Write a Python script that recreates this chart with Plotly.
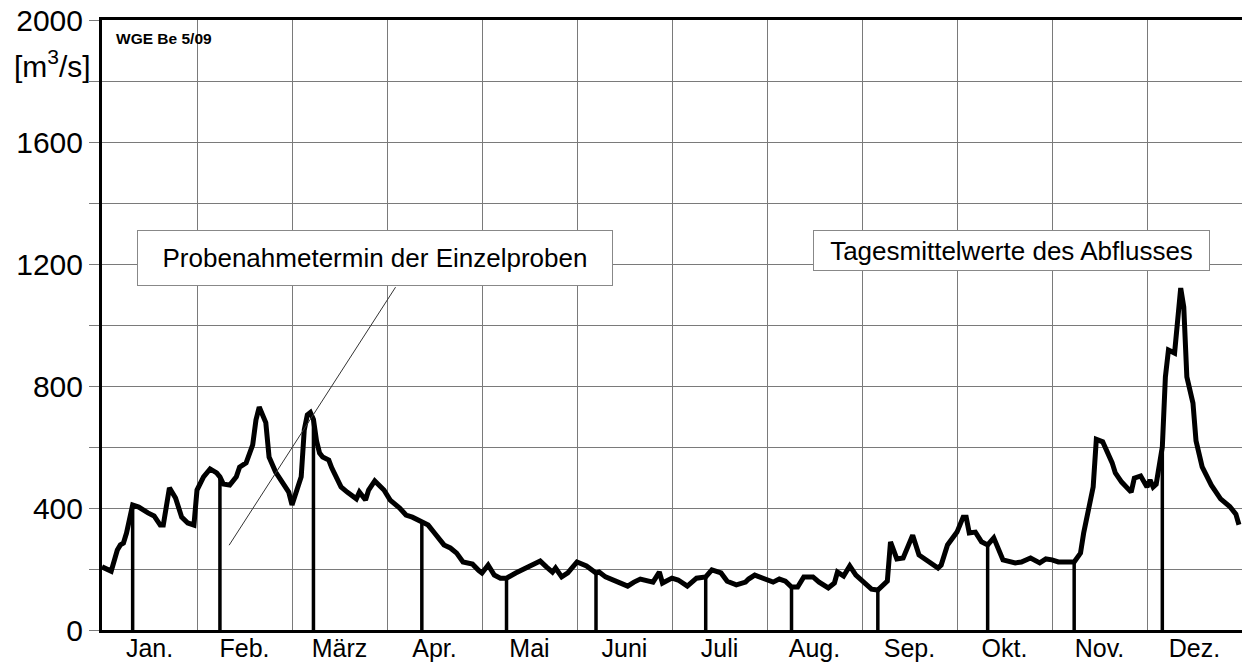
import calendar
import plotly.graph_objects as go

YEAR = 2008
MONTHS = ["Jan.", "Feb.", "März", "Apr.", "Mai", "Juni", "Juli", "Aug.", "Sep.", "Okt.", "Nov.", "Dez."]
Y_TICKS = [0, 400, 800, 1200, 1600, 2000]

# Tagesmittelwerte des Abflusses [m3/s]
flow_dates = [
    "01-01", "01-04", "01-06", "01-07", "01-08", "01-09", "01-11", "01-13", "01-16", "01-18",
    "01-20", "01-21", "01-23", "01-25", "01-27", "01-29", "01-31",
    "02-01", "02-03", "02-05", "02-07", "02-08", "02-09", "02-11", "02-13", "02-14", "02-16",
    "02-18", "02-19", "02-20", "02-22", "02-23", "02-25", "02-27", "02-29",
    "03-01", "03-04", "03-05", "03-06", "03-07", "03-08", "03-09", "03-10", "03-11", "03-13",
    "03-14", "03-17", "03-19", "03-22", "03-23", "03-25", "03-26", "03-28", "03-31",
    "04-02", "04-05", "04-07", "04-09", "04-12", "04-14", "04-16", "04-19", "04-21", "04-23",
    "04-25", "04-28", "04-30",
    "05-01", "05-03", "05-05", "05-07", "05-09", "05-12", "05-16", "05-17", "05-20", "05-22",
    "05-24", "05-25", "05-27", "05-29",
    "06-01", "06-04", "06-07", "06-08", "06-10", "06-14", "06-17", "06-19", "06-21", "06-25",
    "06-27", "06-28",
    "07-01", "07-03", "07-06", "07-09", "07-12", "07-14", "07-17", "07-19", "07-22", "07-25",
    "07-26", "07-28", "07-31",
    "08-03", "08-05", "08-07", "08-09", "08-11", "08-13", "08-16", "08-18", "08-21", "08-23",
    "08-24", "08-26", "08-28", "08-30",
    "09-01", "09-03", "09-04", "09-06", "09-08", "09-09", "09-10", "09-12", "09-14", "09-17",
    "09-19", "09-22", "09-25", "09-26", "09-28",
    "10-01", "10-03", "10-04", "10-05", "10-07", "10-09", "10-11", "10-13", "10-16", "10-20",
    "10-22", "10-25", "10-28", "10-30",
    "11-01", "11-03", "11-08", "11-10", "11-11", "11-14", "11-15", "11-17", "11-20", "11-21",
    "11-23", "11-26", "11-27", "11-29",
    "12-01", "12-02", "12-03", "12-04", "12-06", "12-07", "12-08", "12-10", "12-12", "12-13",
    "12-14", "12-16", "12-17", "12-19", "12-22", "12-25", "12-28", "12-30", "12-31",
]
flow_values = [
    207, 193, 262, 279, 285, 318, 410, 403, 384, 374,
    344, 344, 466, 433, 370, 351, 344,
    459, 502, 528, 515, 502, 479, 475, 502, 534, 548,
    607, 689, 731, 680, 567, 518, 482, 452,
    410, 502, 656, 705, 713, 690, 620, 580, 567, 557,
    531, 469, 452, 430, 452, 426, 459, 489, 459,
    426, 400, 377, 370, 354, 344, 318, 279, 269, 252,
    223, 216, 195,
    187, 213, 180, 170, 170, 187, 207, 213, 226, 207,
    190, 203, 174, 187,
    223, 210, 187, 190, 174, 157, 144, 157, 167, 157,
    190, 154,
    170, 164, 144, 170, 174, 197, 187, 160, 148, 157,
    167, 180, 170,
    157, 167, 160, 141, 141, 174, 174, 157, 138, 154,
    190, 177, 210, 180,
    160, 141, 134, 131, 148, 160, 289, 233, 236, 311,
    246, 223, 203, 213, 279,
    321, 370, 370, 318, 321, 289, 279, 302, 230, 220,
    223, 236, 220, 233,
    230, 223, 223, 252, 318, 469, 625, 617, 548, 515,
    485, 452, 498, 505,
    469, 492, 469, 478, 600, 830, 918, 908, 1121, 1059,
    830, 744, 620, 535, 475, 430, 405, 380, 345,
]

# Probenahmetermine der Einzelproben
sample_dates = ["01-11", "02-08", "03-08", "04-12", "05-09", "06-07",
                "07-12", "08-09", "09-06", "10-11", "11-08", "12-06"]


def month_pos(md):
    m, d = (int(s) for s in md.split("-"))
    dim = calendar.monthrange(YEAR, m)[1]
    return (m - 1) + (d - 1) / dim


flow_x = [month_pos(d) for d in flow_dates]
lookup = dict(zip(flow_dates, flow_values))

stem_x, stem_y = [], []
for d in sample_dates:
    p = month_pos(d)
    stem_x += [p, p, None]
    stem_y += [0, lookup[d], None]

FONT = "Liberation Sans, Arial, Helvetica, sans-serif"
GRID = "#7a7a7a"

fig = go.Figure()
fig.add_trace(go.Scatter(x=stem_x, y=stem_y, mode="lines",
                         line=dict(color="black", width=3.5), hoverinfo="skip"))
fig.add_trace(go.Scatter(x=flow_x, y=flow_values, mode="lines",
                         line=dict(color="black", width=5, shape="linear")))

fig.update_layout(
    width=1242, height=666,
    margin=dict(l=102, r=0, t=20, b=36, autoexpand=False),
    paper_bgcolor="white", plot_bgcolor="white",
    showlegend=False,
    font=dict(family=FONT, color="black"),
    xaxis=dict(
        range=[0, 12],
        automargin=False,
        tickmode="array",
        tickvals=[i + 0.5 for i in range(12)],
        ticktext=MONTHS,
        ticks="",
        ticklabelstandoff=-6,
        showgrid=False,
        tickfont=dict(size=25, family=FONT, color="black"),
        showline=True, linecolor="black", linewidth=3, mirror=True,
        minor=dict(tickmode="array", tickvals=list(range(1, 12)),
                   showgrid=True, gridcolor=GRID, gridwidth=1, ticks=""),
        zeroline=False,
    ),
    yaxis=dict(
        range=[0, 2000],
        automargin=False,
        tickmode="array",
        tickvals=Y_TICKS,
        ticks="outside", ticklen=10, tickcolor=GRID, tickwidth=1,
        showgrid=True, gridcolor=GRID, gridwidth=1,
        tickfont=dict(size=30, family=FONT, color="black"),
        showline=True, linecolor="black", linewidth=3, mirror=False,
        minor=dict(tickmode="array", tickvals=[200, 600, 1000, 1400, 1800],
                   showgrid=True, gridcolor=GRID, gridwidth=1,
                   ticks="outside", ticklen=10, tickcolor=GRID),
        zeroline=False,
    ),
)

# leader line from the sample-date box down into the chart
fig.add_shape(type="line", xref="paper", yref="paper",
              x0=0.1115, y0=0.139, x1=0.2575, y1=0.562,
              line=dict(color="#333333", width=1))

fig.add_annotation(xref="paper", yref="paper", x=0.2395, y=0.6098,
                   text="Probenahmetermin der Einzelproben", showarrow=False,
                   font=dict(size=26, family=FONT, color="black"),
                   bgcolor="white", bordercolor="#888888", borderwidth=1,
                   borderpad=2, width=470, height=50,
                   xanchor="center", yanchor="middle")
fig.add_annotation(xref="paper", yref="paper", x=0.7978, y=0.6221,
                   text="Tagesmittelwerte des Abflusses", showarrow=False,
                   font=dict(size=26, family=FONT, color="black"),
                   bgcolor="white", bordercolor="#888888", borderwidth=1,
                   borderpad=2, width=391, height=35,
                   xanchor="center", yanchor="middle")
fig.add_annotation(xref="paper", yref="paper", x=0.0105, y=0.969,
                   text="<b>WGE Be 5/09</b>", showarrow=False,
                   font=dict(size=15.5, family=FONT, color="black"),
                   xanchor="left", yanchor="middle")
fig.add_annotation(xref="paper", yref="paper", x=-0.043, y=0.928,
                   text="[m<sup>3</sup>/s]", showarrow=False,
                   font=dict(size=30, family=FONT, color="black"),
                   xanchor="center", yanchor="middle")

fig.write_html("out.html",
               config={"displayModeBar": False},
               post_script="document.body.style.margin='0';document.body.style.overflow='hidden';")
